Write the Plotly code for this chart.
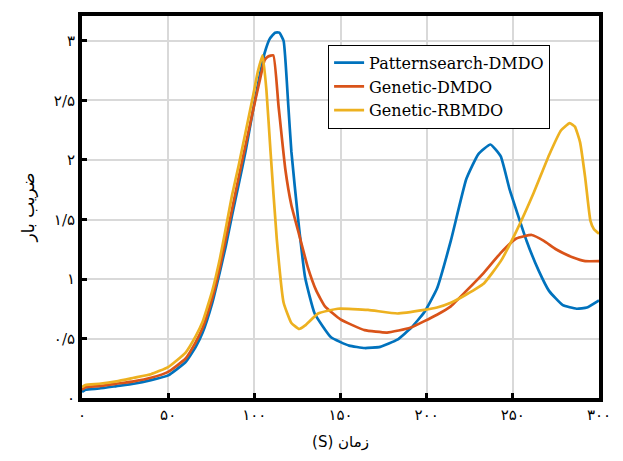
import plotly.graph_objects as go

# ---- data ----
ps_x = [0, 2, 10, 20, 30, 40, 50, 60, 66, 70, 75.6, 80, 83.5, 87, 91, 95, 99, 103, 106, 109, 112, 114.5, 117,
        119.7, 121.5, 125.5, 129.5, 135, 144.5, 155, 164, 173, 183, 191, 198.6, 206, 214, 223, 230, 237, 243, 248,
        258, 265, 271, 279, 287, 293, 300]
ps_y = [0.05, 0.07, 0.08, 0.10, 0.12, 0.15, 0.19, 0.30, 0.43, 0.55, 0.80, 1.06, 1.28, 1.53, 1.80, 2.08, 2.40, 2.70,
        2.90, 3.02, 3.07, 3.07, 3.00, 2.46, 2.07, 1.49, 1.01, 0.71, 0.51, 0.44, 0.42, 0.43, 0.49, 0.59, 0.72, 0.92,
        1.32, 1.84, 2.05, 2.13, 2.03, 1.76, 1.32, 1.07, 0.90, 0.78, 0.75, 0.76, 0.82]

gd_x = [0, 2, 10, 20, 30, 40, 50, 60, 66, 70, 75.6, 80, 83.5, 87, 91, 95, 99, 103, 106, 108, 111, 114, 118, 121.5,
        125.5, 131, 136, 141, 150, 164, 177, 190.5, 206, 214, 223, 233, 243, 252, 261, 268, 275, 285, 292, 300]
gd_y = [0.07, 0.09, 0.10, 0.12, 0.14, 0.17, 0.22, 0.33, 0.47, 0.59, 0.84, 1.10, 1.34, 1.58, 1.86, 2.13, 2.40, 2.66,
        2.84, 2.87, 2.88, 2.46, 1.92, 1.62, 1.40, 1.10, 0.90, 0.77, 0.66, 0.57, 0.55, 0.59, 0.70, 0.77, 0.90, 1.05,
        1.22, 1.34, 1.37, 1.32, 1.25, 1.18, 1.15, 1.15]

gr_x = [0, 2, 10, 20, 30, 40, 50, 60, 66, 70, 75.6, 80, 83.5, 87, 91, 95, 99, 102, 104.8, 107, 109.4, 113, 117,
        121.5, 126, 129.5, 137, 148.5, 166, 183, 198.6, 206, 214, 223, 233, 243, 252, 262, 271, 278, 283, 286, 289,
        292, 295, 297, 300]
gr_y = [0.09, 0.11, 0.12, 0.14, 0.17, 0.20, 0.26, 0.38, 0.52, 0.64, 0.90, 1.17, 1.43, 1.70, 1.96, 2.24, 2.52, 2.74,
        2.88, 2.59, 2.07, 1.34, 0.80, 0.63, 0.58, 0.61, 0.71, 0.75, 0.74, 0.71, 0.74, 0.76, 0.80, 0.87, 0.96, 1.15,
        1.40, 1.72, 2.04, 2.25, 2.31, 2.28, 2.15, 1.85, 1.49, 1.42, 1.38]

series_names = ["Patternsearch-DMDO", "Genetic-DMDO", "Genetic-RBMDO"]
series_colors = ["#0072BD", "#D95319", "#EDB120"]

x_tickvals = [0, 50, 100, 150, 200, 250, 300]
x_ticktext = ["۰", "۵۰", "۱۰۰", "۱۵۰", "۲۰۰", "۲۵۰", "۳۰۰"]
y_tickvals = [0, 0.5, 1, 1.5, 2, 2.5, 3]
y_ticktext = ["۰", "۰/۵", "۱", "۱/۵", "۲", "۲/۵", "۳"]

x_title = "\u202bزمان (S)\u202c"
y_title = "ضریب بار"

fig = go.Figure()
for xs, ys, name, color in zip([ps_x, gd_x, gr_x], [ps_y, gd_y, gr_y], series_names, series_colors):
    fig.add_trace(go.Scatter(x=xs, y=ys, mode="lines", name=name,
                             line=dict(color=color, width=2.7, shape="spline", smoothing=0.4)))

axis_common = dict(showline=True, linecolor="black", linewidth=4, mirror=True,
                   ticks="inside", ticklen=5, tickwidth=3, tickcolor="black",
                   showgrid=True, gridcolor="#d9d9d9", gridwidth=2, zeroline=False,
                   tickfont=dict(family="DejaVu Serif, DejaVu Sans", size=15, color="black"))

fig.update_layout(
    width=623, height=461,
    margin=dict(l=82, r=20, t=12, b=62),
    paper_bgcolor="white", plot_bgcolor="white",
    font=dict(family="DejaVu Serif, DejaVu Sans", color="black"),
    xaxis=dict(range=[0, 300], tickvals=x_tickvals, ticktext=x_ticktext,
               title=dict(text=x_title, font=dict(family="DejaVu Sans", size=15), standoff=14),
               **axis_common),
    yaxis=dict(range=[0, 3.21], tickvals=y_tickvals, ticktext=y_ticktext,
               title=dict(text=y_title, font=dict(family="DejaVu Sans", size=17), standoff=16),
               **axis_common),
    legend=dict(x=0.476, y=0.925, xanchor="left", yanchor="top",
                bgcolor="white", bordercolor="black", borderwidth=1,
                font=dict(family="DejaVu Serif", size=16, color="black"),
                tracegroupgap=0, itemwidth=30),
    showlegend=True,
)

fig.write_html("out.html")
